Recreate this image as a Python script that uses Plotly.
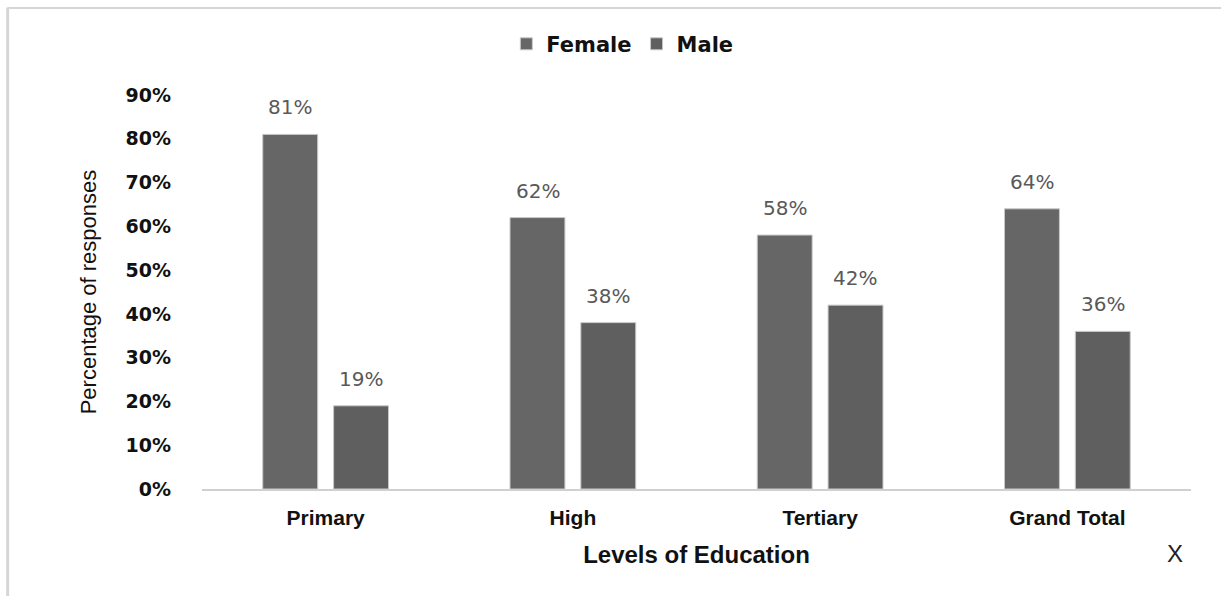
import plotly.graph_objects as go

# Survey responses by level of education
levels = ["Primary", "High", "Tertiary", "Grand Total"]
female = [0.81, 0.62, 0.58, 0.64]
male = [0.19, 0.38, 0.42, 0.36]
y_ticks = [0, 0.1, 0.2, 0.3, 0.4, 0.5, 0.6, 0.7, 0.8, 0.9]

BOLD_FAMILY = "Liberation Sans, Arial, sans-serif"
WIDE_FAMILY = "DejaVu Sans, Verdana, sans-serif"
LABEL_FONT = dict(family=WIDE_FAMILY, size=20, color="#595959")

fig = go.Figure()
fig.add_trace(go.Bar(name="Female", x=levels, y=female,
                     marker=dict(color="#666666", line=dict(color="#c8c8c8", width=1))))
fig.add_trace(go.Bar(name="Male", x=levels, y=male,
                     marker=dict(color="#5f5f5f", line=dict(color="#c8c8c8", width=1))))

# value labels above each bar (bar centres sit 0.143 of a category from the middle)
for i, lv in enumerate(levels):
    for v, off in ((female[i], -0.143), (male[i], 0.143)):
        fig.add_annotation(x=i + off, y=v, xref="x", yref="y", text=f"{round(v*100)}%",
                           showarrow=False, yanchor="bottom", yshift=13, font=LABEL_FONT)

# frame lines on the left and top edges
fig.add_shape(type="line", xref="paper", yref="paper", x0=-0.1965, x1=-0.1965,
              y0=-0.28, y1=1.222, line=dict(color="#d6d6d6", width=3))
fig.add_shape(type="line", xref="paper", yref="paper", x0=-0.1965, x1=1.04,
              y0=1.2205, y1=1.2205, line=dict(color="#d6d6d6", width=2))

fig.add_annotation(text="X", xref="paper", yref="paper", x=0.984, y=-0.163,
                   xanchor="center", yanchor="middle", showarrow=False,
                   font=dict(family=BOLD_FAMILY, size=24, color="#222222"))

fig.update_layout(
    width=1221, height=596,
    margin=dict(l=202, r=30, t=95, b=107),
    paper_bgcolor="white", plot_bgcolor="white",
    barmode="group", bargap=0.427, bargroupgap=0.225,
    showlegend=True,
    legend=dict(orientation="h", x=0.425, y=1.129, xanchor="center", yanchor="middle",
                font=dict(family=WIDE_FAMILY, size=21, color="#111111", weight="bold"),
                itemwidth=30, traceorder="normal"),
    xaxis=dict(
        type="category", showgrid=False, showline=True, linecolor="#d0d0d0", linewidth=1.5,
        ticks="", ticklabelstandoff=9,
        tickfont=dict(family=BOLD_FAMILY, size=21, color="#111111", weight="bold"),
        title=dict(text="Levels of Education", standoff=18,
                   font=dict(family=BOLD_FAMILY, size=24, color="#111111", weight="bold")),
    ),
    yaxis=dict(
        range=[0, 0.9], tickvals=y_ticks, tickformat=".0%", showgrid=False, zeroline=False,
        showline=False, ticks="", ticklabelstandoff=30,
        tickfont=dict(family=WIDE_FAMILY, size=19, color="#111111", weight="bold"),
        title=dict(text="Percentage of responses", standoff=22,
                   font=dict(family=BOLD_FAMILY, size=22, color="#111111")),
    ),
)

fig.write_html("out.html")
